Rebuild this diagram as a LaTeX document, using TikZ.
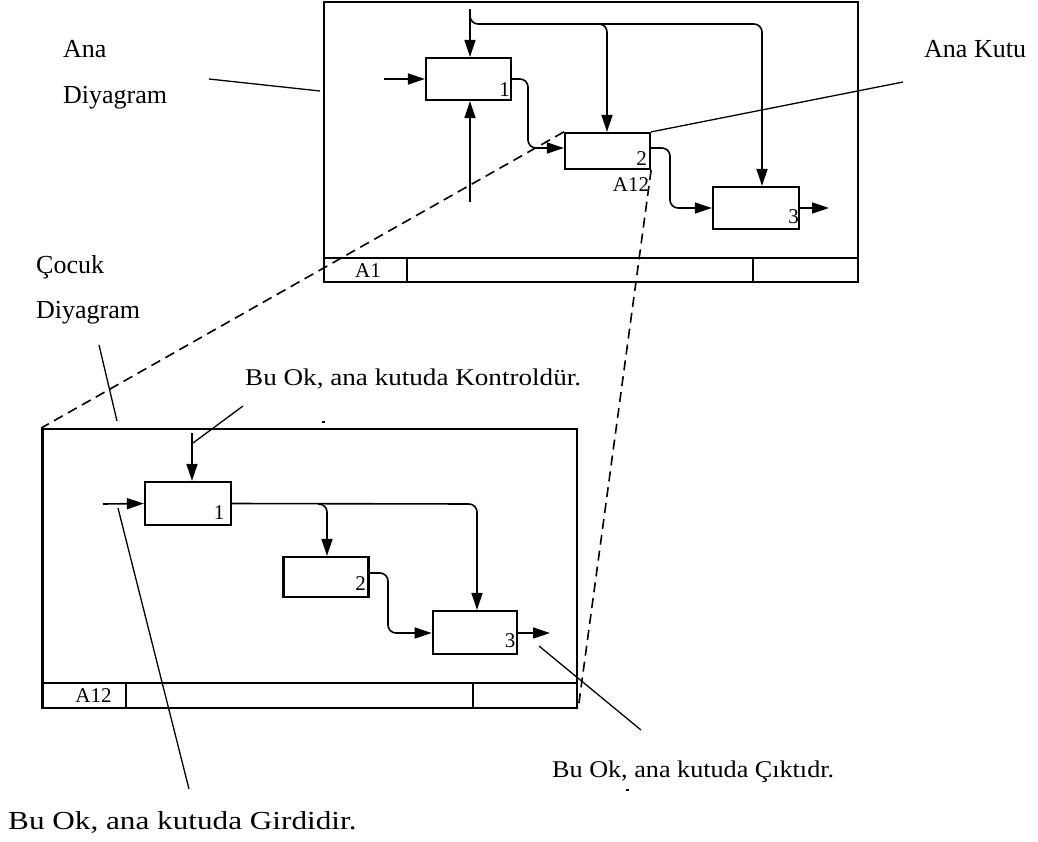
\documentclass[tikz,border=0pt]{standalone}
\usepackage{fontspec}
\setmainfont{Liberation Serif}
\usetikzlibrary{arrows.meta}
\begin{document}
\begin{tikzpicture}[x=1pt,y=-1pt,
  frame/.style={draw,line width=2.2pt,inner sep=0pt},
  proc/.style={draw,line width=2.2pt,inner sep=0pt},
  flow/.style={line width=1.6pt,rounded corners=8pt,-{Triangle[length=17pt,width=11pt]}},
  leader/.style={line width=1.3pt},
  link/.style={line width=1.6pt,dash pattern=on 10pt off 6pt},
  speck/.style={line width=1.5pt},
  big/.style={font=\fontsize{26}{30}\selectfont,anchor=base west,inner sep=0pt},
  small/.style={font=\fontsize{24}{28}\selectfont,anchor=base west,inner sep=0pt},
  num/.style={font=\fontsize{21}{24}\selectfont,inner sep=0pt},
  tag/.style={font=\fontsize{21}{24}\selectfont,inner sep=0pt}
]
\useasboundingbox (0,0) rectangle (1038,841);

% ---------- parent diagram ----------
\node[frame,minimum width=534pt,minimum height=280pt] (F1) at (591,142) {};
\draw[line width=2.2pt] (324,258) -- (858,258);
\draw[line width=2.2pt] (407,258) -- (407,282);
\draw[line width=2.2pt] (753,258) -- (753,282);
\node[tag] (A1) at (368,270.5) {A1};

\node[proc,minimum width=85pt,minimum height=42pt] (T1) at (468.5,79) {};
\node[proc,minimum width=85pt,minimum height=36pt] (T2) at (607.5,151) {};
\node[proc,minimum width=86pt,minimum height=42pt] (T3) at (756,208) {};
\node[num] (t1n) at (504.5,89.5) {1};
\node[num] (t2n) at (641.7,158.3) {2};
\node[num] (t3n) at (793.5,216.5) {3};
\node[tag] (t2tag) at (631,185) {A12};

\coordinate (tin) at (384,79);
\coordinate (tctl) at (470,9);
\coordinate (tmech) at (470,202);
\coordinate (tout) at (829,208);

\draw[flow] (tin) -- (T1.west);
\draw[flow] (tctl) -- (T1.north -| tctl);
\draw[flow] (tmech) -- (T1.south -| tmech);
\draw[flow] (470,12) -- (470,24) -- (762,24) -- (T3.north -| 762,0);
\draw[flow] (595,24) -- (607,24) -- (T2.north -| 607,0);
\draw[flow] (T1.east) -- (528,79) -- (528,148) -- (T2.west |- 0,148);
\draw[flow] (T2.east |- 0,148) -- (670,148) -- (670,208) -- (T3.west);
\draw[flow] (T3.east) -- (tout);

% ---------- child diagram ----------
\node[frame,minimum width=534.5pt,minimum height=279pt] (F2) at (309.75,568.5) {};
\draw[line width=2.2pt] (42.5,683) -- (577,683);
\draw[line width=2.2pt] (126,683) -- (126,708);
\draw[line width=2.2pt] (473,683) -- (473,708);
\node[tag] (A12) at (93.5,695.5) {A12};

\node[proc,minimum width=86pt,minimum height=43pt] (C1) at (188,503.5) {};
\node[proc,minimum width=85pt,minimum height=40pt] (C2) at (326,577) {};
\node[proc,minimum width=84.5pt,minimum height=43pt] (C3) at (475,632.5) {};
\node[num] (c1n) at (219,512.5) {1};
\node[num] (c2n) at (360.7,583.5) {2};
\node[num] (c3n) at (510,640.5) {3};

\coordinate (cin) at (103,504);
\coordinate (cctl) at (192,433);
\coordinate (cout) at (550,633);

\draw[flow] (cin) -- (C1.west);
\draw[flow] (cctl) -- (C1.north -| cctl);
\draw[flow] (C1.east) -- (477,504) -- (C3.north -| 477,0);
\draw[flow] (318,504) -- (327,504) -- (C2.north -| 327,0);
\draw[flow] (C2.east |- 0,573) -- (388,573) -- (388,633) -- (C3.west |- 0,633);
\draw[flow] (C3.east |- 0,633) -- (cout);

% ---------- links between diagrams ----------
\draw[link] (T2.north west) -- (F2.north west);
\draw[link] (T2.south east) -- (F2.south east);

% ---------- labels ----------
\node[big] (anaA) at (63,57) {Ana};
\node[big] (anaD) at (63,103) {Diyagram};
\node[big] (cocA) at (36,273) {Çocuk};
\node[big] (cocD) at (36,318) {Diyagram};
\node[big] (kutu) at (924,57) {Ana Kutu};
\node[small] (lctl) at (245,385) {\scalebox{1.13}[1]{Bu Ok, ana kutuda Kontroldür.}};
\node[small] (lout) at (552,777) {\scalebox{1.09}[1]{Bu Ok, ana kutuda Çıktıdr.}};
\node[big] (lin) at (8,829) {\scalebox{1.2}[1]{Bu Ok, ana kutuda Girdidir.}};

\coordinate (pAna) at (209,79);
\coordinate (pKutu) at (903,82);
\coordinate (pCoc) at (99,345);
\coordinate (pCocE) at (117,421);
\coordinate (pCtl) at (243,406);
\coordinate (pCtlE) at (193,443);
\coordinate (pIn) at (118,508);
\coordinate (pInE) at (189,789);
\coordinate (pOut) at (539,646);
\coordinate (pOutE) at (641,730);

\draw[leader] (pAna) -- (320,91);
\draw[leader] (T2.north east) -- (pKutu);
\draw[leader] (pCoc) -- (pCocE);
\draw[leader] (pCtl) -- (pCtlE);
\draw[leader] (pIn) -- (pInE);
\draw[leader] (pOut) -- (pOutE);

% small stray marks
\draw[speck] (321.5,422) -- (324.5,422);
\draw[speck] (625.5,790) -- (628.5,790);
\end{tikzpicture}
\end{document}
